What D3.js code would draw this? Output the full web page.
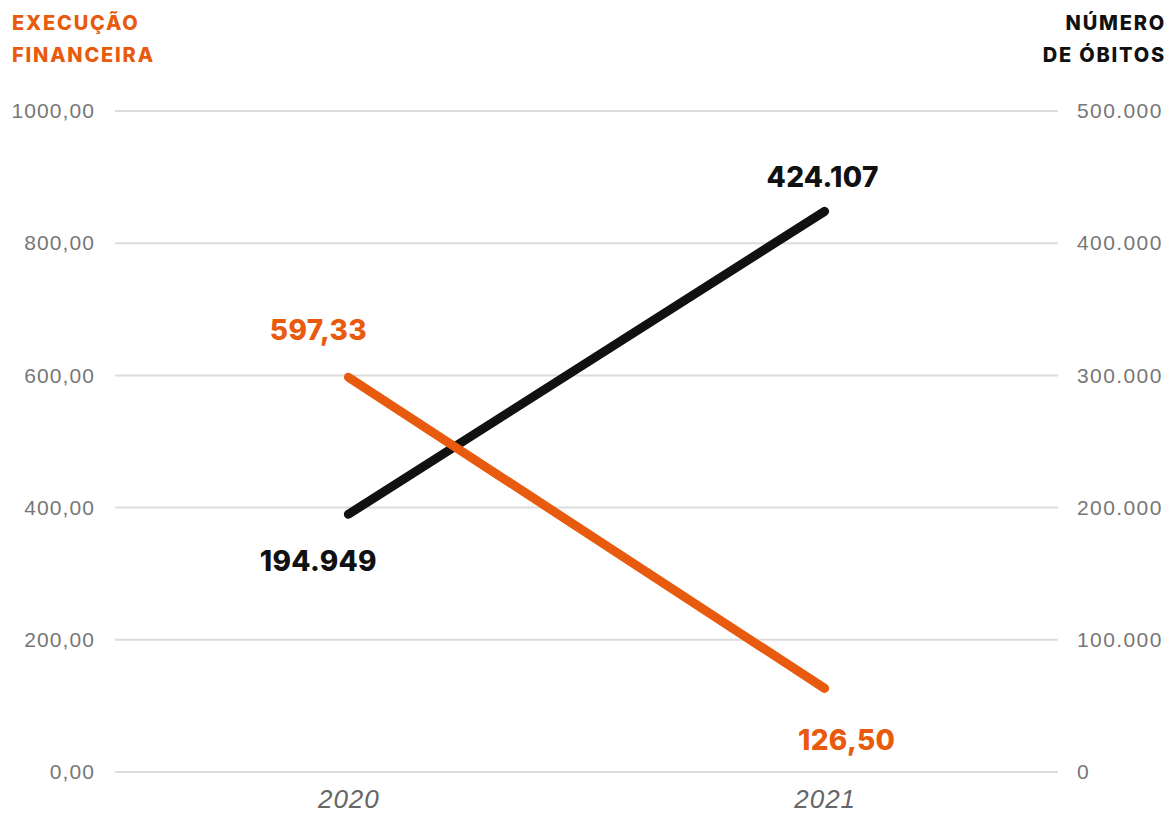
<!DOCTYPE html>
<html>
<head>
<meta charset="utf-8">
<script src="https://cdn.jsdelivr.net/npm/d3@7"></script>
<style>
  body { margin: 0; background: #fff; }
  svg { display: block; font-family: Inter, "Open Sans", sans-serif; }
</style>
</head>
<body>
<div id="chart"></div>
<script>
const years = ["2020", "2021"];
const execucao = [597.33, 126.50];
const obitos = [194949, 424107];
const leftTicks = [0, 200, 400, 600, 800, 1000];
const rightTicks = [0, 100000, 200000, 300000, 400000, 500000];

const width = 1169, height = 819;
const orange = "#e85a0d", black = "#111111";

const svg = d3.select("#chart").append("svg")
  .attr("width", width).attr("height", height);

const x = d3.scalePoint().domain(years).range([115, 1058]).padding(0.49);
const yL = d3.scaleLinear().domain([0, 1000]).range([772, 111]);
const yR = d3.scaleLinear().domain([0, 500000]).range([772, 111]);

const fmtL = d => d3.format(".2f")(d).replace(".", ",");
const fmtR = d => d3.format(",")(d).replace(/,/g, ".");

// grid
svg.append("g").selectAll("line").data(leftTicks).enter().append("line")
  .attr("x1", 115).attr("x2", 1058)
  .attr("y1", d => yL(d)).attr("y2", d => yL(d))
  .attr("stroke", "#dcdcdc").attr("stroke-width", 2);

// left axis
const gl = svg.append("g").attr("transform", "translate(95,0)")
  .call(d3.axisLeft(yL).tickValues(leftTicks).tickFormat(fmtL).tickSize(0).tickPadding(0));
gl.select(".domain").remove();
gl.selectAll("text").attr("fill", "#777").style("font-size", "21px").style("font-weight", 300)
  .style("letter-spacing", "1.1px").attr("font-family", null);

// right axis
const gr = svg.append("g").attr("transform", "translate(1077,0)")
  .call(d3.axisRight(yR).tickValues(rightTicks).tickFormat(fmtR).tickSize(0).tickPadding(0));
gr.select(".domain").remove();
gr.selectAll("text").attr("fill", "#777").style("font-size", "21px").style("font-weight", 300)
  .style("letter-spacing", "1.4px").attr("font-family", null);

// x axis
const gx = svg.append("g").attr("transform", "translate(0,790)")
  .call(d3.axisBottom(x).tickSize(0).tickPadding(0));
gx.select(".domain").remove();
gx.selectAll("text").attr("fill", "#666").style("font-size", "26px").style("font-style", "italic")
  .style("font-weight", 300).style("letter-spacing", "1px").attr("font-family", null);

// lines
const lineL = d3.line().x((d, i) => x(years[i])).y(d => yL(d));
const lineR = d3.line().x((d, i) => x(years[i])).y(d => yR(d));

svg.append("path").attr("d", lineR(obitos))
  .attr("fill", "none").attr("stroke", black).attr("stroke-width", 9).attr("stroke-linecap", "round");
svg.append("path").attr("d", lineL(execucao))
  .attr("fill", "none").attr("stroke", orange).attr("stroke-width", 9).attr("stroke-linecap", "round");

// value labels
const lab = (tx, ty, txt, col) => svg.append("text")
  .attr("x", tx).attr("y", ty).attr("text-anchor", "middle")
  .attr("fill", col).style("font-size", "28px").style("font-weight", 800)
  .style("letter-spacing", "0.3px").text(txt);

lab(x("2020") - 30, yL(execucao[0]) - 37, fmtL(execucao[0]), orange);
lab(x("2021") + 22, yL(execucao[1]) + 62, fmtL(execucao[1]), orange);
lab(x("2020") - 30, yR(obitos[0]) + 57, fmtR(obitos[0]), black);
lab(x("2021") - 2, yR(obitos[1]) - 24, fmtR(obitos[1]), black);

// axis titles
const title = svg.append("g").style("font-size", "20px").style("font-weight", 800)
  .style("letter-spacing", "1.8px");
title.append("text").attr("x", 12).attr("y", 30).attr("fill", orange).text("EXECUÇÃO");
title.append("text").attr("x", 12).attr("y", 62).attr("fill", orange).text("FINANCEIRA");
title.append("text").attr("x", 1166).attr("y", 30).attr("text-anchor", "end").attr("fill", black).text("NÚMERO");
title.append("text").attr("x", 1166).attr("y", 62).attr("text-anchor", "end").attr("fill", black).text("DE ÓBITOS");
</script>
</body>
</html>
